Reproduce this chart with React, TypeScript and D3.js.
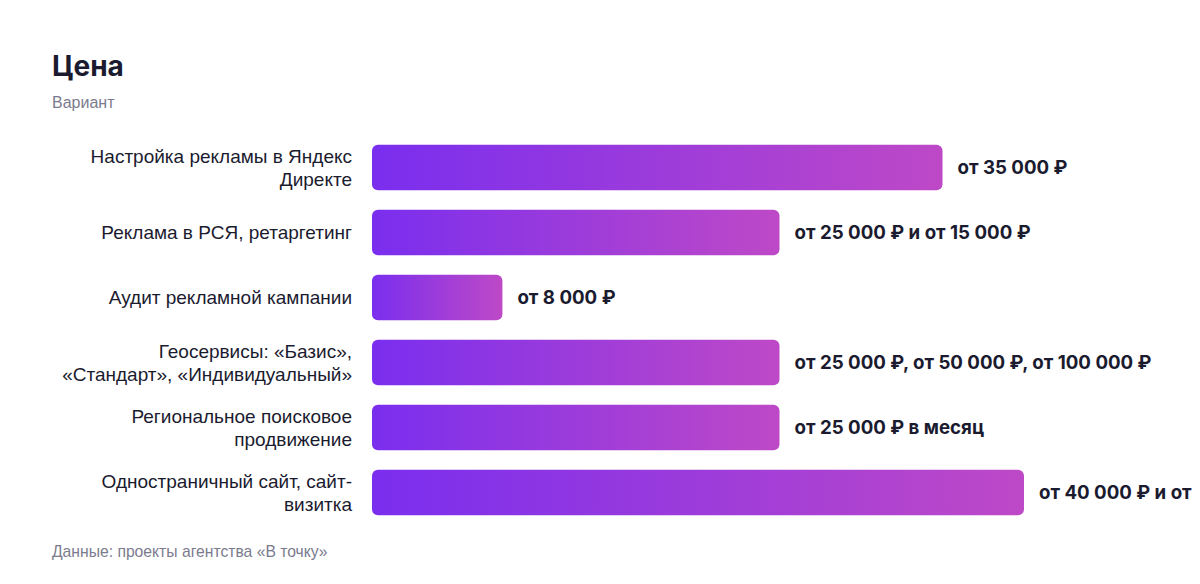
import React from "react";
import * as d3 from "d3";

const categories: string[][] = [
  ["Настройка рекламы в Яндекс", "Директе"],
  ["Реклама в РСЯ, ретаргетинг"],
  ["Аудит рекламной кампании"],
  ["Геосервисы: «Базис»,", "«Стандарт», «Индивидуальный»"],
  ["Региональное поисковое", "продвижение"],
  ["Одностраничный сайт, сайт-", "визитка"],
];
const values: number[] = [35000, 25000, 8000, 25000, 25000, 40000];
const valueLabels: string[] = [
  "от 35 000 ₽",
  "от 25 000 ₽ и от 15 000 ₽",
  "от 8 000 ₽",
  "от 25 000 ₽, от 50 000 ₽, от 100 000 ₽",
  "от 25 000 ₽ в месяц",
  "от 40 000 ₽ и от",
];

export default function App() {
  const W = 1200, H = 584;
  const x = d3.scaleLinear().domain([0, 40000]).range([372, 1024]);
  const y = d3
    .scaleBand<number>()
    .domain(d3.range(values.length))
    .range([135, 525])
    .paddingInner(0.3)
    .paddingOuter(0.15);
  const labelFont = "Helvetica, Arial, 'Liberation Sans', sans-serif";
  const boldFont = "Inter, 'Noto Sans', sans-serif";
  return (
    <svg width={W} height={H} style={{ position: "absolute", left: 0, top: 0, background: "#fff" }}>
      <defs>
        <linearGradient id="barGrad" x1="0" x2="1" y1="0" y2="0">
          <stop offset="0%" stopColor="#7A2EEE" />
          <stop offset="100%" stopColor="#BE49C7" />
        </linearGradient>
      </defs>
      <rect width={W} height={H} fill="#fff" />
      <text x={52} y={76} fontFamily={boldFont} fontWeight={700} fontSize={28} fill="#1b1b2f">
        Цена
      </text>
      <text x={52} y={108} fontFamily={labelFont} fontSize={16} fill="#7b7b8e">
        Вариант
      </text>
      {values.map((v, i) => {
        const y0 = y(i)!;
        const bh = y.bandwidth();
        const cy = y0 + bh / 2;
        const lines = categories[i];
        const lh = 23;
        const startY = cy - ((lines.length - 1) * lh) / 2;
        return (
          <g key={i}>
            <rect
              x={x(0)}
              y={y0}
              width={x(v) - x(0)}
              height={bh}
              rx={6}
              ry={6}
              fill="url(#barGrad)"
            />
            {lines.map((ln, j) => (
              <text
                key={j}
                x={352}
                y={startY + j * lh}
                dy="0.35em"
                textAnchor="end"
                fontFamily={labelFont}
                fontSize={19}
                fill="#1b1b2f"
              >
                {ln}
              </text>
            ))}
            <text
              x={x(v) + 15}
              y={cy}
              dy="0.35em"
              fontFamily={boldFont}
              fontWeight={700}
              fontSize={18.7}
              fill="#1b1b2f"
            >
              {valueLabels[i]}
            </text>
          </g>
        );
      })}
      <text x={52} y={557} fontFamily={labelFont} fontSize={15.7} fill="#7b7b8e">
        Данные: проекты агентства «В точку»
      </text>
    </svg>
  );
}
